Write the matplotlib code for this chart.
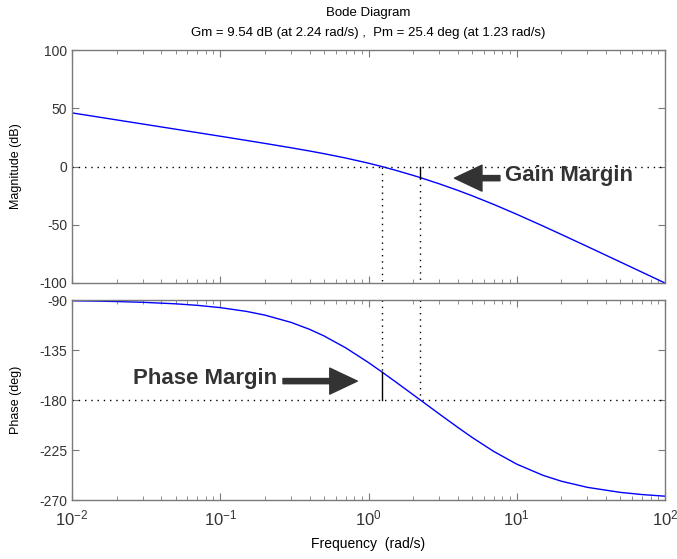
import matplotlib
matplotlib.use('Agg')
import matplotlib.pyplot as plt
from matplotlib.ticker import LogLocator, NullFormatter

plt.rcParams['font.family'] = ['Liberation Sans', 'DejaVu Sans']
plt.rcParams['mathtext.fontset'] = 'custom'
plt.rcParams['mathtext.rm'] = 'Liberation Sans'
plt.rcParams['mathtext.default'] = 'regular'
plt.rcParams['axes.unicode_minus'] = False

# frequency samples (rad/s) and response
freq = [0.01, 0.015, 0.02, 0.03, 0.05, 0.07, 0.1, 0.15, 0.2, 0.3, 0.4, 0.5,
        0.7, 1.0, 1.23, 1.5, 2.0, 2.24, 3.0, 4.0, 5.0, 7.0, 10, 15, 20, 30,
        50, 70, 100]
mag_db = [46.02, 42.50, 40.00, 36.47, 32.03, 29.10, 25.98, 22.40, 19.82,
          16.09, 13.31, 11.03, 7.30, 2.84, -0.03, -2.99, -7.63, -9.57,
          -14.86, -20.47, -25.12, -32.58, -41.01, -51.04, -58.34, -68.75,
          -81.98, -90.73, -100.01]
phase_deg = [-90.69, -91.03, -91.38, -92.06, -93.44, -94.81, -96.86, -100.25,
             -103.60, -110.13, -116.38, -122.28, -132.96, -146.31, -154.71,
             -163.01, -175.24, -180.07, -192.53, -204.62, -213.69, -226.33,
             -237.72, -247.75, -253.10, -258.63, -263.14, -265.10, -266.57]

gm_db, w_gm = 9.54, 2.24
pm_deg, w_pm = 25.4, 1.23

W, H = 677, 559
fig = plt.figure(figsize=(W / 100, H / 100), dpi=100)
ax1 = fig.add_axes([72 / W, 1 - 283 / H, 593 / W, 233 / H])
ax2 = fig.add_axes([72 / W, 1 - 500 / H, 593 / W, 200 / H])

frame = '#7a7a7a'
dot = (0, (1, 3.5))
for ax in (ax1, ax2):
    ax.set_xscale('log')
    ax.set_xlim(1e-2, 1e2)
    for s in ax.spines.values():
        s.set_color(frame)
        s.set_linewidth(1.0)
    ax.tick_params(which='both', direction='in', top=True, right=True,
                   color=frame, labelcolor='#333333', labelsize=10)
    ax.tick_params(which='major', length=5)
    ax.tick_params(which='minor', length=3)
    ax.xaxis.set_major_locator(LogLocator(base=10, numticks=10))
    ax.xaxis.set_minor_locator(LogLocator(base=10, subs=range(2, 10), numticks=20))
    ax.xaxis.set_minor_formatter(NullFormatter())

# magnitude
ax1.plot(freq, mag_db, color='#0000ff', lw=1.0)
ax1.set_ylim(-100, 100)
ax1.set_yticks([100, 50, 0, -50, -100])
ax1.set_xticklabels([])
ax1.axhline(0, color='k', ls=dot, lw=1)
ax1.plot([w_pm, w_pm], [0, -100], color='k', ls=dot, lw=1)
ax1.plot([w_gm, w_gm], [0, -gm_db], color='k', lw=1)
ax1.plot([w_gm, w_gm], [-gm_db, -100], color='k', ls=dot, lw=1)
ax1.set_ylabel('Magnitude (dB)', fontsize=9)

# phase
ax2.plot(freq, phase_deg, color='#0000ff', lw=1.0)
ax2.set_ylim(-270, -90)
ax2.set_yticks([-90, -135, -180, -225, -270])
ax2.axhline(-180, color='k', ls=dot, lw=1)
ax2.plot([w_pm, w_pm], [-90, -180 + pm_deg], color='k', ls=dot, lw=1)
ax2.plot([w_pm, w_pm], [-180 + pm_deg, -180], color='k', lw=1)
ax2.plot([w_gm, w_gm], [-90, -180], color='k', ls=dot, lw=1)
ax2.set_ylabel('Phase (deg)', fontsize=9)
ax2.tick_params(axis='x', which='major', labelsize=12, pad=6)
ax2.set_xlabel('Frequency  (rad/s)', fontsize=10, labelpad=6)

ax1.yaxis.set_label_coords(-0.085, 0.5)
ax2.yaxis.set_label_coords(-0.085, 0.5)

# annotations
ann = '#333333'
arrow = dict(arrowstyle='simple,head_length=0.9,head_width=0.85,tail_width=0.17',
             color=ann, mutation_scale=22, shrinkA=0, shrinkB=0)
ax1.annotate('', xy=(3.8, -10), xytext=(7.7, -10), arrowprops=arrow)
ax1.text(8.3, -7.5, 'Gain Margin', fontsize=16, fontweight='bold',
         color=ann, va='center', ha='left')
ax2.annotate('', xy=(0.84, -163), xytext=(0.265, -163), arrowprops=arrow)
ax2.text(0.0258, -161, 'Phase Margin', fontsize=16, fontweight='bold',
         color=ann, va='center', ha='left')

fig.text(0.5 * (72 + 665) / W, 1 - 13 / H, 'Bode Diagram', ha='center',
         va='center', fontsize=9.5)
fig.text(0.5 * (72 + 665) / W, 1 - 33 / H,
         'Gm = 9.54 dB (at 2.24 rad/s) ,  Pm = 25.4 deg (at 1.23 rad/s)',
         ha='center', va='center', fontsize=9.5)

fig.savefig('out.png', dpi=100)
